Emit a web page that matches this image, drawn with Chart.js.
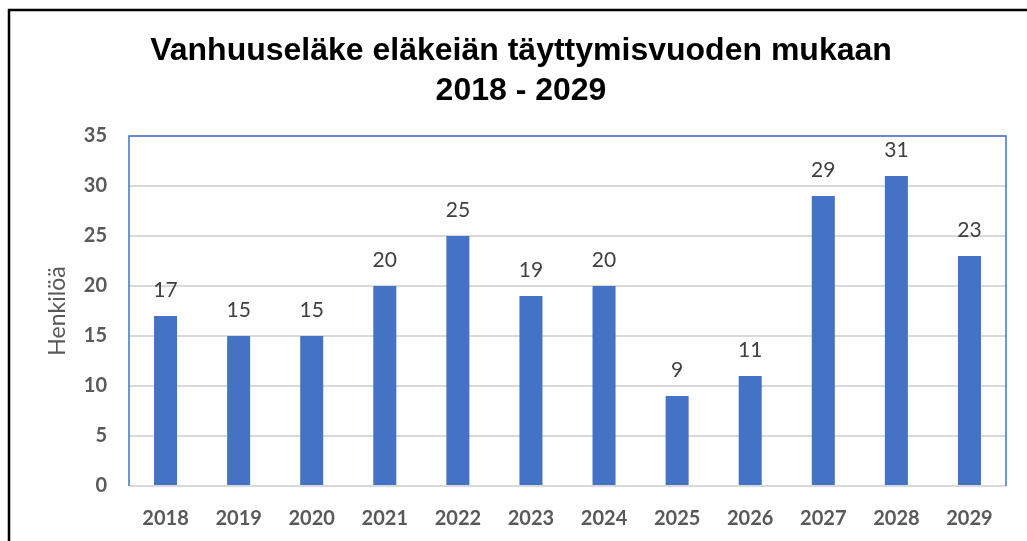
<!DOCTYPE html>
<html>
<head>
<meta charset="utf-8">
<script src="https://cdn.jsdelivr.net/npm/chart.js@4"></script>
<style>
  html, body { margin: 0; padding: 0; background: #fff; }
  #wrap { width: 1027px; height: 541px; position: relative; }
</style>
</head>
<body>
<div id="wrap"><canvas id="c" width="1027" height="541"></canvas></div>
<script>
const titleLines = ['Vanhuuseläke eläkeiän täyttymisvuoden mukaan', '2018 - 2029'];
const categories = ['2018','2019','2020','2021','2022','2023','2024','2025','2026','2027','2028','2029'];
const values = [17, 15, 15, 20, 25, 19, 20, 9, 11, 29, 31, 23];
const yAxisTitle = 'Henkilöä';
const yMin = 0, yMax = 35, yStep = 5;

const decor = {
  id: 'decor',
  beforeDraw(chart) {
    const ctx = chart.ctx;
    ctx.save();
    ctx.fillStyle = '#ffffff';
    ctx.fillRect(0, 0, chart.width, chart.height);
    ctx.restore();
  },
  afterDatasetsDraw(chart) {
    const ctx = chart.ctx;
    const a = chart.chartArea;
    ctx.save();
    ctx.strokeStyle = '#D9D9D9';
    ctx.lineWidth = 2;
    ctx.beginPath();
    ctx.moveTo(a.left, a.bottom);
    ctx.lineTo(a.right, a.bottom);
    ctx.stroke();
    ctx.strokeStyle = '#4472C4';
    ctx.lineWidth = 1.5;
    ctx.beginPath();
    ctx.moveTo(a.left, a.bottom);
    ctx.lineTo(a.left, a.top);
    ctx.lineTo(a.right, a.top);
    ctx.lineTo(a.right, a.bottom);
    ctx.stroke();
    const meta = chart.getDatasetMeta(0);
    ctx.fillStyle = '#404040';
    ctx.font = '21px Lato';
    ctx.textAlign = 'center';
    ctx.textBaseline = 'bottom';
    meta.data.forEach((bar, i) => {
      ctx.fillText(String(values[i]), bar.x, bar.y - 15);
    });
    ctx.restore();
  },
  afterDraw(chart) {
    const ctx = chart.ctx;
    ctx.save();
    ctx.strokeStyle = '#000000';
    ctx.lineWidth = 2.5;
    ctx.beginPath();
    ctx.moveTo(9, chart.height);
    ctx.lineTo(9, 10);
    ctx.lineTo(chart.width, 10);
    ctx.stroke();
    ctx.fillStyle = '#000000';
    ctx.font = 'bold 32px "Liberation Sans"';
    ctx.textAlign = 'center';
    ctx.textBaseline = 'alphabetic';
    ctx.fillText(titleLines[0], 521, 60);
    ctx.fillText(titleLines[1], 521, 100);
    ctx.restore();
  }
};

new Chart(document.getElementById('c'), {
  type: 'bar',
  data: {
    labels: categories,
    datasets: [{
      data: values,
      backgroundColor: '#4472C4',
      borderWidth: 0,
      categoryPercentage: 1.0,
      barPercentage: 0.315
    }]
  },
  options: {
    responsive: false,
    animation: false,
    devicePixelRatio: 1,
    layout: { padding: { top: 136, right: 21, left: 0, bottom: 0 } },
    plugins: { legend: { display: false }, title: { display: false }, tooltip: { enabled: false } },
    scales: {
      x: {
        grid: { display: false },
        border: { display: false },
        ticks: { color: '#595959', font: { family: 'Lato', size: 20, weight: 'bold' }, padding: 13, maxRotation: 0 },
        afterFit(scale) { scale.height = 55; }
      },
      y: {
        min: yMin, max: yMax,
        grid: { color: '#D9D9D9', lineWidth: 2, drawTicks: false },
        border: { display: false },
        ticks: { stepSize: yStep, color: '#595959', font: { family: 'Lato', size: 20, weight: 'bold' }, padding: 22 },
        title: { display: true, text: yAxisTitle, color: '#595959', font: { family: 'Lato', size: 23 }, padding: { top: 44, bottom: 0 } },
        afterFit(scale) { scale.width = 129; }
      }
    }
  },
  plugins: [decor]
});
</script>
</body>
</html>
